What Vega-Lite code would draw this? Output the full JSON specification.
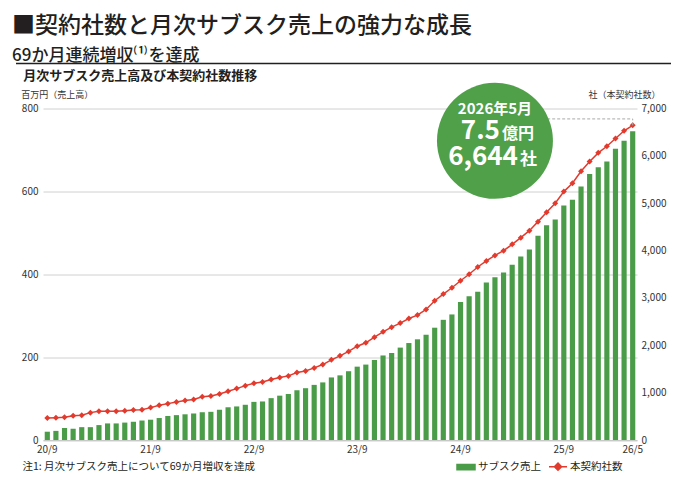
{
  "$schema": "https://vega.github.io/schema/vega-lite/v6.json",
  "width": 594,
  "height": 331.5,
  "autosize": "none",
  "padding": {"left": 43, "top": 108.5, "right": 49, "bottom": 55},
  "background": "white",
  "config": {
    "font": "Noto Sans CJK JP",
    "view": {"stroke": null},
    "axis": {"labelColor": "#333333", "titleColor": "#333333", "labelFontSize": 10, "ticks": false, "domain": false, "grid": false}
  },
  "title": {
    "text": "■契約社数と月次サブスク売上の強力な成長",
    "subtitle": "69か月連続増収⁽¹⁾を達成",
    "anchor": "start",
    "frame": "group",
    "dx": -31,
    "dy": 1,
    "offset": 0,
    "fontSize": 23,
    "fontWeight": 500,
    "color": "#231f20",
    "subtitleFontSize": 17,
    "subtitleFontWeight": 500,
    "subtitleColor": "#231f20",
    "subtitlePadding": 10
  },
  "datasets": {
    "monthly": [
      {"month": "2020-09", "sales": 20, "contracts": 465},
      {"month": "2020-10", "sales": 22, "contracts": 472},
      {"month": "2020-11", "sales": 29, "contracts": 479},
      {"month": "2020-12", "sales": 27, "contracts": 514},
      {"month": "2021-01", "sales": 31, "contracts": 522},
      {"month": "2021-02", "sales": 31, "contracts": 578},
      {"month": "2021-03", "sales": 36, "contracts": 606},
      {"month": "2021-04", "sales": 40, "contracts": 606},
      {"month": "2021-05", "sales": 40, "contracts": 608},
      {"month": "2021-06", "sales": 42, "contracts": 620},
      {"month": "2021-07", "sales": 44, "contracts": 635},
      {"month": "2021-08", "sales": 47, "contracts": 641},
      {"month": "2021-09", "sales": 49, "contracts": 684},
      {"month": "2021-10", "sales": 53, "contracts": 733},
      {"month": "2021-11", "sales": 58, "contracts": 768},
      {"month": "2021-12", "sales": 60, "contracts": 804},
      {"month": "2022-01", "sales": 62, "contracts": 832},
      {"month": "2022-02", "sales": 64, "contracts": 855},
      {"month": "2022-03", "sales": 67, "contracts": 912},
      {"month": "2022-04", "sales": 68, "contracts": 930},
      {"month": "2022-05", "sales": 73, "contracts": 973},
      {"month": "2022-06", "sales": 79, "contracts": 1030},
      {"month": "2022-07", "sales": 81, "contracts": 1085},
      {"month": "2022-08", "sales": 85, "contracts": 1148},
      {"month": "2022-09", "sales": 92, "contracts": 1199},
      {"month": "2022-10", "sales": 93, "contracts": 1227},
      {"month": "2022-11", "sales": 101, "contracts": 1276},
      {"month": "2022-12", "sales": 107, "contracts": 1318},
      {"month": "2023-01", "sales": 111, "contracts": 1354},
      {"month": "2023-02", "sales": 120, "contracts": 1424},
      {"month": "2023-03", "sales": 125, "contracts": 1459},
      {"month": "2023-04", "sales": 133, "contracts": 1523},
      {"month": "2023-05", "sales": 139, "contracts": 1593},
      {"month": "2023-06", "sales": 151, "contracts": 1692},
      {"month": "2023-07", "sales": 156, "contracts": 1777},
      {"month": "2023-08", "sales": 166, "contracts": 1870},
      {"month": "2023-09", "sales": 177, "contracts": 1981},
      {"month": "2023-10", "sales": 182, "contracts": 2052},
      {"month": "2023-11", "sales": 193, "contracts": 2172},
      {"month": "2023-12", "sales": 204, "contracts": 2284},
      {"month": "2024-01", "sales": 210, "contracts": 2383},
      {"month": "2024-02", "sales": 223, "contracts": 2468},
      {"month": "2024-03", "sales": 234, "contracts": 2566},
      {"month": "2024-04", "sales": 243, "contracts": 2637},
      {"month": "2024-05", "sales": 254, "contracts": 2756},
      {"month": "2024-06", "sales": 271, "contracts": 2940},
      {"month": "2024-07", "sales": 290, "contracts": 3081},
      {"month": "2024-08", "sales": 303, "contracts": 3215},
      {"month": "2024-09", "sales": 333, "contracts": 3363},
      {"month": "2024-10", "sales": 347, "contracts": 3500},
      {"month": "2024-11", "sales": 358, "contracts": 3653},
      {"month": "2024-12", "sales": 380, "contracts": 3780},
      {"month": "2025-01", "sales": 393, "contracts": 3898},
      {"month": "2025-02", "sales": 404, "contracts": 3997},
      {"month": "2025-03", "sales": 423, "contracts": 4131},
      {"month": "2025-04", "sales": 443, "contracts": 4272},
      {"month": "2025-05", "sales": 460, "contracts": 4420},
      {"month": "2025-06", "sales": 493, "contracts": 4611},
      {"month": "2025-07", "sales": 518, "contracts": 4807},
      {"month": "2025-08", "sales": 532, "contracts": 4998},
      {"month": "2025-09", "sales": 566, "contracts": 5245},
      {"month": "2025-10", "sales": 580, "contracts": 5421},
      {"month": "2025-11", "sales": 612, "contracts": 5675},
      {"month": "2025-12", "sales": 642, "contracts": 5880},
      {"month": "2026-01", "sales": 658, "contracts": 6063},
      {"month": "2026-02", "sales": 672, "contracts": 6203},
      {"month": "2026-03", "sales": 703, "contracts": 6366},
      {"month": "2026-04", "sales": 722, "contracts": 6529},
      {"month": "2026-05", "sales": 745, "contracts": 6644}
    ]
  },
  "layer": [
    {
      "data": {"values": [{}]},
      "mark": {"type": "rule", "color": "#231f20", "strokeWidth": 1.3},
      "encoding": {
        "x": {
          "datum": 0, "type": "quantitative",
          "scale": {"domain": [0, 1], "range": [-27, 628]},
          "axis": {
            "orient": "top", "title": "月次サブスク売上高及び本契約社数推移",
            "labels": false, "ticks": false, "domain": false, "grid": false,
            "titleX": -20.3, "titleY": -33.5, "titleAlign": "left", "titleBaseline": "middle",
            "titleFontSize": 13, "titleFontWeight": "bold", "titleColor": "#231f20"
          }
        },
        "x2": {"datum": 1},
        "y": {"datum": 1, "type": "quantitative", "scale": {"domain": [0, 1], "range": [0, -45]}, "axis": null}
      }
    },
    {
      "data": {"name": "monthly"},
      "layer": [
        {
          "mark": {"type": "bar"},
          "encoding": {
            "x": {
              "field": "month", "type": "nominal",
              "scale": {"paddingInner": 0.4, "paddingOuter": 0.2},
              "axis": {
                "values": ["2020-09", "2021-09", "2022-09", "2023-09", "2024-09", "2025-09", "2026-05"],
                "labelExpr": "substring(datum.value, 2, 4) + '/' + toNumber(substring(datum.value, 5, 7))",
                "labelAngle": 0, "labelPadding": 4, "domain": true, "domainColor": "#c8c8c8",
                "title": "注1: 月次サブスク売上について69か月増収を達成",
                "titleX": -21, "titleY": 26, "titleAlign": "left", "titleBaseline": "middle",
                "titleFontSize": 10.5, "titleFontWeight": "normal", "titleColor": "#231f20"
              }
            },
            "y": {
              "field": "sales", "type": "quantitative",
              "scale": {"domain": [0, 800]},
              "axis": {
                "orient": "left", "values": [0, 200, 400, 600, 800], "grid": true, "gridColor": "#d0d0d0",
                "labelPadding": 5, "title": "百万円（売上高）", "titleAngle": 0,
                "titleX": -22.3, "titleY": -14.5, "titleAlign": "left", "titleBaseline": "middle",
                "titleFontSize": 9, "titleFontWeight": "normal"
              }
            },
            "color": {
              "datum": "サブスク売上", "type": "nominal",
              "scale": {"domain": ["サブスク売上", "本契約社数"], "range": ["#4a9c48", "#e23b2e"]},
              "legend": {
                "orient": "none", "legendX": 413, "legendY": 348, "direction": "horizontal",
                "title": null, "padding": 0, "symbolSize": 324, "labelFontSize": 10.5,
                "labelColor": "#231f20", "labelOffset": 2, "columnPadding": 5,
                "encode": {
                  "symbols": {
                    "update": {
                      "shape": {"signal": "datum.value === 'サブスク売上' ? 'M-1,-0.3H1V0.3H-1Z' : 'M-1,0H1M0,-0.4L0.4,0L0,0.4L-0.4,0Z'"},
                      "fill": {"signal": "datum.value === 'サブスク売上' ? '#4a9c48' : '#e23b2e'"},
                      "stroke": {"signal": "datum.value === 'サブスク売上' ? 'transparent' : '#e23b2e'"},
                      "strokeWidth": {"value": 1.5},
                      "opacity": {"value": 1}
                    }
                  }
                }
              }
            }
          }
        },
        {
          "mark": {"type": "line", "strokeWidth": 1.5, "point": {"shape": "diamond", "size": 36, "filled": true, "opacity": 1}},
          "encoding": {
            "x": {"field": "month", "type": "nominal"},
            "y": {
              "field": "contracts", "type": "quantitative",
              "scale": {"domain": [0, 7000]},
              "axis": {
                "orient": "right", "values": [0, 1000, 2000, 3000, 4000, 5000, 6000, 7000], "format": ",.0f",
                "labelPadding": 4, "title": "社（本契約社数）", "titleAngle": 0,
                "titleX": 23, "titleY": -14.5, "titleAlign": "right", "titleBaseline": "middle",
                "titleFontSize": 9, "titleFontWeight": "normal"
              }
            },
            "color": {"datum": "本契約社数", "type": "nominal"}
          }
        },
        {
          "data": {"values": [{}]},
          "mark": {"type": "rule", "color": "#aaaaaa", "strokeWidth": 1, "strokeDash": [3, 2]},
          "encoding": {
            "x": {"datum": "2025-03", "type": "nominal"},
            "x2": {"datum": "2026-05"},
            "y": {"datum": 6780, "type": "quantitative", "scale": {"domain": [0, 7000]}, "axis": null}
          }
        },
        {
          "data": {"values": [{}]},
          "mark": {"type": "rule", "color": "#aaaaaa", "strokeWidth": 1, "strokeDash": [3, 2]},
          "encoding": {
            "x": {"datum": "2026-05", "type": "nominal"},
            "y": {"datum": 6644, "type": "quantitative", "scale": {"domain": [0, 7000]}, "axis": null},
            "y2": {"datum": 6780}
          }
        },
        {
          "data": {"values": [{}]},
          "mark": {"type": "point", "shape": "circle", "size": 13456, "filled": true, "opacity": 1, "color": "#50a04a", "strokeWidth": 0},
          "encoding": {
            "x": {"datum": "2025-01", "type": "nominal"},
            "y": {"datum": 722, "type": "quantitative", "scale": {"domain": [0, 800]}, "axis": null}
          }
        },
        {
          "data": {"values": [{}]},
          "mark": {"type": "text", "text": "2026年5月", "align": "center", "baseline": "alphabetic", "fontSize": 15, "fontWeight": "bold", "color": "white"},
          "encoding": {
            "x": {"datum": "2025-01", "type": "nominal"},
            "y": {"datum": 787, "type": "quantitative", "scale": {"domain": [0, 800]}, "axis": null}
          }
        },
        {
          "data": {"values": [{}]},
          "mark": {"type": "text", "text": "7.5", "align": "right", "baseline": "alphabetic", "dx": 5, "fontSize": 26, "fontWeight": "bold", "color": "white"},
          "encoding": {
            "x": {"datum": "2025-01", "type": "nominal"},
            "y": {"datum": 727, "type": "quantitative", "scale": {"domain": [0, 800]}, "axis": null}
          }
        },
        {
          "data": {"values": [{}]},
          "mark": {"type": "text", "text": "億円", "align": "left", "baseline": "alphabetic", "dx": 7, "fontSize": 16, "fontWeight": "bold", "color": "white"},
          "encoding": {
            "x": {"datum": "2025-01", "type": "nominal"},
            "y": {"datum": 727, "type": "quantitative", "scale": {"domain": [0, 800]}, "axis": null}
          }
        },
        {
          "data": {"values": [{}]},
          "mark": {"type": "text", "text": "6,644", "align": "right", "baseline": "alphabetic", "dx": 23, "fontSize": 26, "fontWeight": "bold", "color": "white"},
          "encoding": {
            "x": {"datum": "2025-01", "type": "nominal"},
            "y": {"datum": 664, "type": "quantitative", "scale": {"domain": [0, 800]}, "axis": null}
          }
        },
        {
          "data": {"values": [{}]},
          "mark": {"type": "text", "text": "社", "align": "left", "baseline": "alphabetic", "dx": 25, "fontSize": 17, "fontWeight": "bold", "color": "white"},
          "encoding": {
            "x": {"datum": "2025-01", "type": "nominal"},
            "y": {"datum": 664, "type": "quantitative", "scale": {"domain": [0, 800]}, "axis": null}
          }
        }
      ],
      "resolve": {"scale": {"y": "independent"}}
    }
  ],
  "resolve": {"scale": {"x": "independent", "y": "independent"}}
}
